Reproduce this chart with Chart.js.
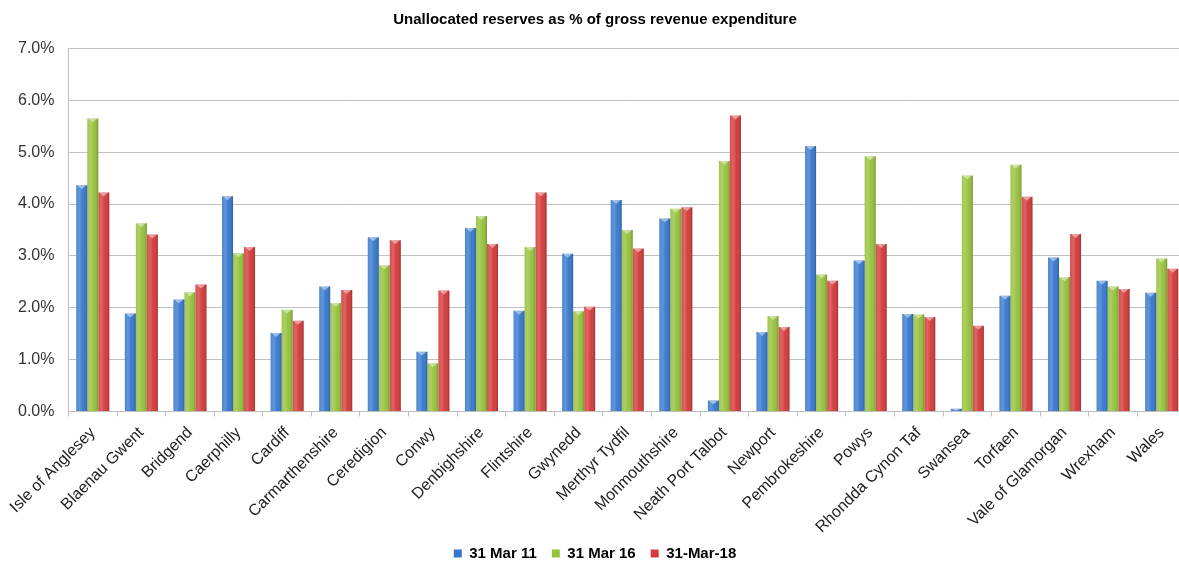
<!DOCTYPE html>
<html>
<head>
<meta charset="utf-8">
<script src="https://cdn.jsdelivr.net/npm/chart.js@4/dist/chart.umd.min.js"></script>
<style>
html,body{margin:0;padding:0;background:#fff;overflow:hidden;}
#wrap{position:relative;width:1190px;height:567px;}
</style>
</head>
<body>
<div id="wrap"><canvas id="c" width="1190" height="567"></canvas></div>
<script>
const categories = ["Isle of Anglesey","Blaenau Gwent","Bridgend","Caerphilly","Cardiff","Carmarthenshire","Ceredigion","Conwy","Denbighshire","Flintshire","Gwynedd","Merthyr Tydfil","Monmouthshire","Neath Port Talbot","Newport","Pembrokeshire","Powys","Rhondda Cynon Taf","Swansea","Torfaen","Vale of Glamorgan","Wrexham","Wales"];
const mar11 = [4.36,1.89,2.16,4.15,1.51,2.41,3.36,1.15,3.54,1.94,3.04,4.08,3.72,0.21,1.53,5.12,2.91,1.88,0.05,2.23,2.97,2.52,2.29];
const mar16 = [5.65,3.63,2.30,3.05,1.96,2.09,2.82,0.93,3.77,3.17,1.93,3.50,3.91,4.83,1.84,2.64,4.92,1.87,4.55,4.76,2.59,2.41,2.95];
const mar18 = [4.22,3.41,2.45,3.17,1.75,2.34,3.30,2.33,3.23,4.22,2.02,3.14,3.94,5.71,1.63,2.52,3.23,1.82,1.65,4.14,3.42,2.36,2.75];
const seriesNames = ["31 Mar 11","31 Mar 16","31-Mar-18"];
const yTicks = [0,1,2,3,4,5,6,7];

const colors = ['#3778cc','#96c13c','#d33a3a'];
const FONT = "'Liberation Sans', Arial, sans-serif";

// Cylinder-like shading drawn over each bar the library has laid out
const shadePlugin = {
  id: 'shade',
  beforeDraw(chart) {
    // let rotated category labels run past the axis box (no clipping)
    const xs = chart.scales.x;
    if (xs && typeof xs._computeLabelArea === 'function') xs._computeLabelArea = () => undefined;
  },
  afterDatasetsDraw(chart) {
    const ctx = chart.ctx;
    chart.data.datasets.forEach((ds, di) => {
      const meta = chart.getDatasetMeta(di);
      meta.data.forEach(el => {
        const { x, y, base, width } = el.getProps(['x','y','base','width'], true);
        const l = x - width / 2, r = x + width / 2;
        const top = Math.min(y, base), bot = Math.max(y, base);
        if (bot - top < 0.5) return;
        const g = ctx.createLinearGradient(l, 0, r, 0);
        g.addColorStop(0, 'rgba(255,255,255,0.10)');
        g.addColorStop(0.3, 'rgba(255,255,255,0.22)');
        g.addColorStop(0.6, 'rgba(255,255,255,0.02)');
        g.addColorStop(1, 'rgba(0,0,0,0.22)');
        ctx.save();
        ctx.fillStyle = g;
        ctx.fillRect(l, top, width, bot - top);
        const capH = Math.min(4, bot - top);
        ctx.fillStyle = 'rgba(255,255,255,0.45)';
        ctx.beginPath();
        ctx.moveTo(l + 1, top);
        ctx.lineTo(r - 1, top);
        ctx.lineTo(x, top + capH);
        ctx.closePath();
        ctx.fill();
        ctx.restore();
      });
    });
  }
};

new Chart(document.getElementById('c'), {
  type: 'bar',
  data: {
    labels: categories,
    datasets: [mar11, mar16, mar18].map((d, i) => ({
      label: seriesNames[i],
      data: d,
      backgroundColor: colors[i],
      borderWidth: 0,
      categoryPercentage: 0.68,
      barPercentage: 1.0
    }))
  },
  plugins: [shadePlugin],
  options: {
    responsive: false,
    animation: false,
    layout: { padding: { left: 4, right: 4, top: 7, bottom: -4 } },
    plugins: {
      title: {
        display: true,
        text: 'Unallocated reserves as % of gross revenue expenditure',
        color: '#000',
        font: { family: FONT, size: 15, weight: 'bold' },
        padding: { top: 4, bottom: 19.5 }
      },
      legend: {
        position: 'bottom',
        labels: {
          color: '#000',
          font: { family: FONT, size: 15, weight: 'bold' },
          boxWidth: 8, boxHeight: 8,
          padding: 15
        }
      },
      tooltip: { enabled: false }
    },
    scales: {
      x: {
        grid: { display: true, drawOnChartArea: false, drawTicks: true, tickLength: 5, color: '#bfbfbf', offset: true },
        border: { color: '#bfbfbf' },
        afterFit: (axis) => { axis.height = 119.6; },
        ticks: {
          color: '#222',
          font: { family: FONT, size: 16 },
          minRotation: 45, maxRotation: 45,
          autoSkip: false, padding: 7
        }
      },
      y: {
        min: 0, max: 7,
        afterBuildTicks: (axis) => { axis.ticks = yTicks.map(v => ({ value: v })); },
        grid: { color: '#bfbfbf', drawTicks: false },
        border: { color: '#bfbfbf' },
        ticks: {
          color: '#333',
          font: { family: FONT, size: 16 },
          padding: 14,
          callback: (v) => Number(v).toFixed(1) + '%'
        }
      }
    }
  }
});
</script>
</body>
</html>
